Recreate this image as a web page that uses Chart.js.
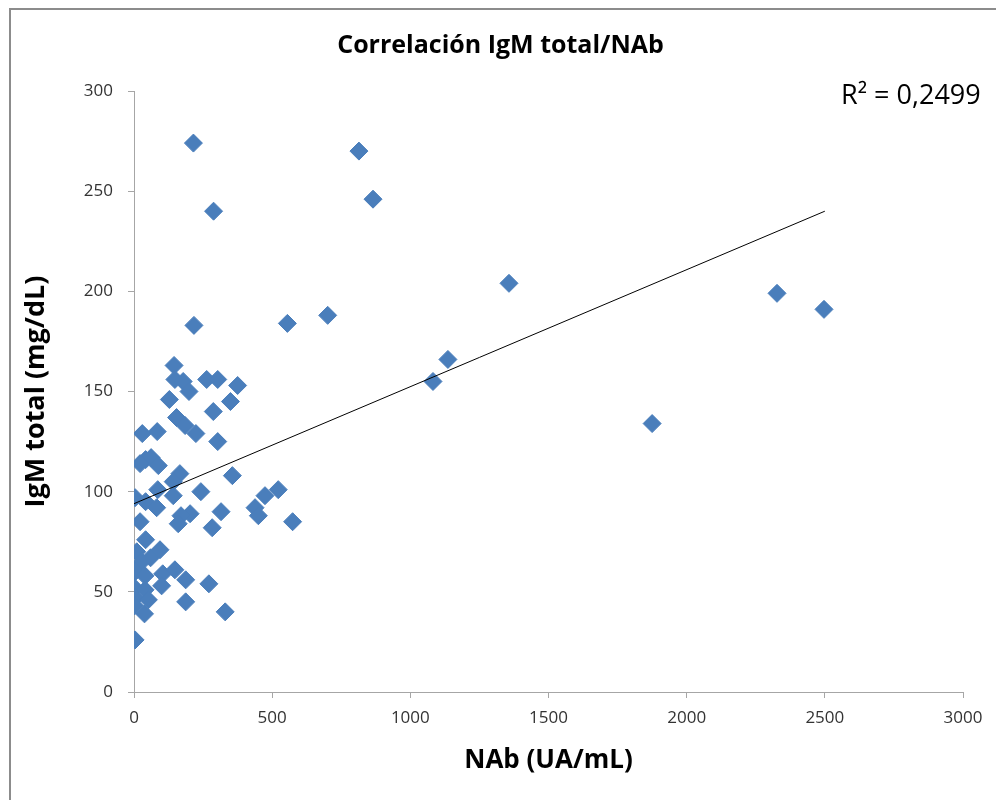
<!DOCTYPE html>
<html>
<head>
<meta charset="utf-8">
<script src="https://cdn.jsdelivr.net/npm/chart.js@4.4.1/dist/chart.umd.min.js"></script>
<style>
    html, body { margin: 0; padding: 0; background: #fff; overflow: hidden; }
    #wrap { position: relative; width: 996px; height: 800px; }
    #frame { position: absolute; left: 9px; top: 8px; width: 1000px; height: 800px; border: 2px solid #8c8c8c; box-sizing: border-box; }
    canvas { position: absolute; left: 0; top: 0; }
</style>
</head>
<body>
<div id="wrap">
    <div id="frame"></div>
    <canvas id="chart" width="996" height="800"></canvas>
</div>
<script>
// valores (NAb em UA/mL, IgM em mg/dL)
const nab = [
    215, 814, 865, 288, 217, 555, 701, 1357, 1136, 1082, 2327, 2497, 1875,
    145, 148, 178, 199, 128, 263, 303, 375, 349, 287, 154, 185, 224, 30, 84, 303,
    42, 62, 88, 22, 166, 142, 356, 86, 4, 142, 242, 42, 82, 203, 170, 315, 22, 160, 283,
    522, 474, 438, 450, 574,
    42, 10, 94, 60, 28, 4, 40, 104, 148, 187, 271, 100, 2, 40, 4, 52, 2, 38, 187, 330, 4
];
const igm = [
    274, 270, 246, 240, 183, 184, 188, 204, 166, 155, 199, 191, 134,
    163, 156, 155, 150, 146, 156, 156, 153, 145, 140, 137, 133, 129, 129, 130, 125,
    116, 117, 113, 114, 109, 105, 108, 101, 97, 98, 100, 95, 92, 89, 88, 90, 85, 84, 82,
    101, 98, 92, 88, 85,
    76, 70, 71, 67, 65, 60, 58, 59, 61, 56, 54, 53, 52, 51, 47, 46, 43, 39, 45, 40, 26
];
// linha de tendência (extremos)
const trendX = [0, 2500];
const trendY = [94, 240];
const xTicks = [0, 500, 1000, 1500, 2000, 2500, 3000];
const yTicks = [0, 50, 100, 150, 200, 250, 300];
const r2Label = 'R² = 0,2499';

const FONT = "'Open Sans', 'Liberation Sans', sans-serif";

const r2Plugin = {
    id: 'r2Label',
    afterDraw(chart) {
        const { ctx, chartArea } = chart;
        ctx.save();
        ctx.font = '27px ' + FONT;
        ctx.fillStyle = '#000';
        ctx.textBaseline = 'middle';
        ctx.textAlign = 'left';
        ctx.fillText(r2Label, chartArea.right - 122, chartArea.top + 5);
        ctx.restore();
    }
};

function axisCommon(ticks, min, max, pad) {
    return {
        type: 'linear',
        min: min,
        max: max,
        afterBuildTicks: function (scale) { scale.ticks = ticks.map(v => ({ value: v })); },
        border: { display: true, color: '#a6a6a6', width: 1 },
        grid: { display: true, drawOnChartArea: false, drawTicks: true, tickLength: 6, color: '#a6a6a6' },
        ticks: {
            color: '#333',
            font: { family: FONT, size: 17 },
            padding: pad,
            callback: function (v) { return String(v); }
        }
    };
}

const xAxis = axisCommon(xTicks, 0, 3000, 10);
xAxis.title = { display: true, text: 'NAb (UA/mL)', color: '#000', font: { family: FONT, size: 26, weight: 'bold' }, padding: { top: 0, bottom: 24 } };
xAxis.afterFit = function (scale) { scale.height = 108; };

const yAxis = axisCommon(yTicks, 0, 300, 15);
yAxis.title = { display: true, text: 'IgM total (mg/dL)', color: '#000', font: { family: FONT, size: 27, weight: 'bold' }, padding: { top: -18, bottom: 0 } };
yAxis.afterFit = function (scale) { scale.width = 96; };

const ctx = document.getElementById('chart').getContext('2d');
new Chart(ctx, {
    type: 'scatter',
    data: {
        datasets: [
            {
                label: 'IgM total',
                data: nab.map((v, i) => ({ x: v, y: igm[i] })),
                pointStyle: 'rectRot',
                pointRadius: 9,
                pointHoverRadius: 9,
                backgroundColor: '#4a7ebb',
                borderColor: '#4a7ebb',
                borderWidth: 1,
                order: 1
            },
            {
                type: 'line',
                label: 'Tendencia',
                data: trendX.map((v, i) => ({ x: v, y: trendY[i] })),
                borderColor: '#000',
                borderWidth: 1,
                pointRadius: 0,
                fill: false,
                order: 0
            }
        ]
    },
    options: {
        responsive: false,
        animation: false,
        devicePixelRatio: 1,
        layout: { padding: { left: 38, right: 33, top: 0, bottom: 0 } },
        plugins: {
            legend: { display: false },
            tooltip: { enabled: false },
            title: {
                display: true,
                text: 'Correlación IgM total/NAb',
                color: '#000',
                font: { family: FONT, size: 25, weight: 'bold' },
                padding: { top: 31, bottom: 30 }
            }
        },
        scales: { x: xAxis, y: yAxis }
    },
    plugins: [r2Plugin]
});
</script>
</body>
</html>
